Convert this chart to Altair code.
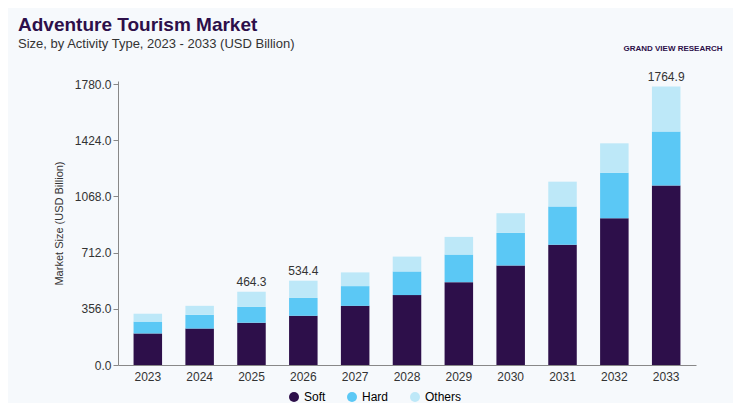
import altair as alt
import pandas as pd

years = [str(y) for y in range(2023, 2034)]
soft = [200, 231, 268, 312, 375, 443, 525, 631, 762, 930, 1137]
hard = [75, 87, 100, 113, 125, 150, 175, 206, 243, 288, 343]
others = [50, 57, 96.3, 109.4, 87, 94, 112, 125, 157, 187, 284.9]
series = ["Soft", "Hard", "Others"]
colors = ["#2d0f4a", "#5bc8f5", "#bde8f8"]
labeled = {"2025": "464.3", "2026": "534.4", "2033": "1764.9"}

rows = []
for i, y in enumerate(years):
    for j, (s, v) in enumerate(zip(series, [soft[i], hard[i], others[i]])):
        rows.append({"Year": y, "Type": s, "Value": v, "order": j})
df = pd.DataFrame(rows)
tot = pd.DataFrame({"Year": years, "Total": [soft[i] + hard[i] + others[i] for i in range(len(years))]})
tot["Label"] = tot["Year"].map(labeled).fillna("")

x = alt.X("Year:N", title=None, axis=alt.Axis(labelAngle=0, labelFontSize=12, labelColor="#333", domainColor="#888", ticks=False, labelPadding=6), scale=alt.Scale(paddingInner=0.45, paddingOuter=0.3))

bars = alt.Chart(df).mark_bar().encode(
    x=x,
    y=alt.Y("Value:Q", stack="zero", title="Market Size (USD Billion)",
            scale=alt.Scale(domain=[0, 1780]),
            axis=alt.Axis(values=[0, 356, 712, 1068, 1424, 1780], format=".1f", grid=False,
                          labelFontSize=12, labelColor="#333", titleFontSize=11, titleFontWeight="normal",
                          titleColor="#333", domainColor="#888", tickColor="#888", titlePadding=10)),
    color=alt.Color("Type:N", scale=alt.Scale(domain=series, range=colors),
                    legend=alt.Legend(orient="none", legendX=170, legendY=310, title=None,
                                      symbolType="circle", labelFontSize=12,
                                      direction="horizontal", columnPadding=20)),
    order=alt.Order("order:Q"),
)
text = alt.Chart(tot).mark_text(dy=-10, fontSize=12, color="#333").encode(
    x="Year:N", y="Total:Q", text="Label:N")

logo = alt.Chart(pd.DataFrame({"t": ["GRAND VIEW RESEARCH"]})).mark_text(
    fontSize=8, fontWeight="bold", color="#2d0f4a", align="center").encode(
    text="t:N", x=alt.value(555), y=alt.value(-32))

chart = alt.layer(bars, text, logo).properties(
    width=578, height=284,
    title=alt.TitleParams("Adventure Tourism Market",
                          subtitle="Size, by Activity Type, 2023 - 2033 (USD Billion)",
                          anchor="start", frame="group", fontSize=19, fontWeight="bold", color="#2d0f4a",
                          subtitleFontSize=13, subtitleColor="#333", offset=-6, dx=-100),
    padding={"left": 10, "top": 8, "right": 10, "bottom": 0},
    background="#f6f9fc",
).configure_view(stroke=None).configure_legend(symbolStrokeWidth=0)

chart.save("out.html", embed_options={"renderer": "svg", "actions": False})
